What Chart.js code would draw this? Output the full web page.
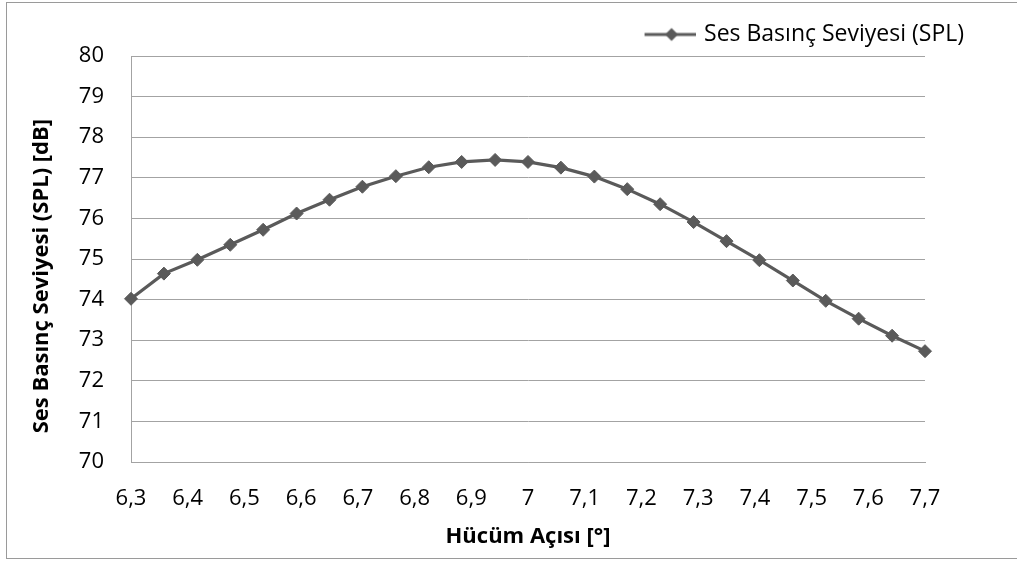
<!DOCTYPE html>
<html>
<head>
<meta charset="utf-8">
<script src="https://cdn.jsdelivr.net/npm/chart.js@4.4.1/dist/chart.umd.min.js"></script>
<style>
  html, body { margin: 0; padding: 0; background: #ffffff; overflow: hidden; }
  #wrap { position: relative; width: 1017px; height: 563px; overflow: hidden; }
  #frame { position: absolute; left: 6px; top: 2px; width: 1100px; height: 555px; border: 1px solid #9a9a9a; }
  #c { position: absolute; left: 0; top: 0; }
</style>
</head>
<body>
<div id="wrap">
  <div id="frame"></div>
  <canvas id="c" width="1017" height="563"></canvas>
</div>
<script>
// ---- data ----
const seriesName = 'Ses Basınç Seviyesi (SPL)';
const attackAngles = [6.3, 6.358, 6.417, 6.475, 6.533, 6.592, 6.65, 6.708, 6.767, 6.825, 6.883, 6.942, 7.0,
                      7.058, 7.117, 7.175, 7.233, 7.292, 7.35, 7.408, 7.467, 7.525, 7.583, 7.642, 7.7];
const splValues = [74.02, 74.64, 74.98, 75.35, 75.72, 76.12, 76.46, 76.78, 77.04, 77.26, 77.39, 77.44, 77.39,
                   77.25, 77.03, 76.72, 76.35, 75.91, 75.44, 74.97, 74.47, 73.97, 73.53, 73.11, 72.73];
const xTitle = 'Hücüm Açısı [°]';
const yTitle = 'Ses Basınç Seviyesi (SPL) [dB]';
const xMin = 6.3, xMax = 7.7, xStep = 0.1;
const yMin = 70, yMax = 80, yStep = 1;

const lineColor = '#5a5a5a';
const gridColor = '#a3a3a3';
const FONT = "'Open Sans', 'DejaVu Sans', sans-serif";

// legend symbol: line with diamond
const sym = document.createElement('canvas');
sym.width = 54; sym.height = 16;
(function () {
  const g = sym.getContext('2d');
  g.strokeStyle = lineColor; g.lineWidth = 3;
  g.beginPath(); g.moveTo(3, 8); g.lineTo(54, 8); g.stroke();
  g.fillStyle = lineColor;
  g.beginPath(); g.moveTo(30, 1.5); g.lineTo(36.5, 8); g.lineTo(30, 14.5); g.lineTo(23.5, 8); g.closePath(); g.fill();
})();

const points = attackAngles.map((x, i) => ({ x: x, y: splValues[i] }));

new Chart(document.getElementById('c'), {
  type: 'line',
  data: {
    datasets: [{
      label: seriesName,
      data: points,
      borderColor: lineColor,
      backgroundColor: lineColor,
      borderWidth: 3.2,
      tension: 0,
      pointStyle: 'rectRot',
      pointRadius: 6.5,
      pointBorderWidth: 1,
      pointBackgroundColor: lineColor,
      pointBorderColor: lineColor,
      fill: false,
      clip: false
    }]
  },
  options: {
    responsive: false,
    animation: false,
    devicePixelRatio: 1,
    layout: { padding: { left: 0, right: 47, top: 17, bottom: 0 } },
    plugins: {
      tooltip: { enabled: false },
      legend: {
        position: 'top',
        align: 'end',
        labels: {
          usePointStyle: true,
          pointStyle: sym,
          pointStyleWidth: 48,
          padding: 6,
          color: '#000',
          font: { family: FONT, size: 23 }
        }
      }
    },
    scales: {
      x: {
        type: 'linear',
        min: xMin, max: xMax,
        grid: { display: false, drawTicks: false },
        border: { display: true, color: gridColor, width: 1 },
        ticks: {
          stepSize: xStep,
          autoSkip: false,
          maxRotation: 0,
          padding: 24,
          color: '#000',
          font: { family: FONT, size: 22 },
          callback: (v) => String(Math.round(v * 10) / 10).replace('.', ',')
        },
        title: {
          display: true, text: xTitle, color: '#000',
          font: { family: FONT, size: 22, weight: 'bold' },
          padding: { top: 0, bottom: 13 }
        },
        afterFit: (s) => { s.height = 101; }
      },
      y: {
        type: 'linear',
        position: 'left',
        min: yMin, max: yMax,
        grid: { display: true, color: gridColor, lineWidth: 1, drawTicks: false },
        border: { display: true, color: gridColor, width: 1 },
        ticks: {
          stepSize: yStep,
          padding: 27,
          color: '#000',
          font: { family: FONT, size: 22 }
        },
        title: {
          display: true, text: yTitle + '      ', color: '#000',
          font: { family: FONT, size: 22, weight: 'bold' },
          padding: { top: 29, bottom: 0 }
        },
        afterFit: (s) => { s.width = 131; }
      },
      y2: {
        type: 'linear',
        position: 'right',
        display: true,
        grid: { display: false, drawTicks: false },
        border: { display: false },
        ticks: { display: false },
        afterFit: (s) => { s.width = 45; }
      }
    }
  }
});
</script>
</body>
</html>
